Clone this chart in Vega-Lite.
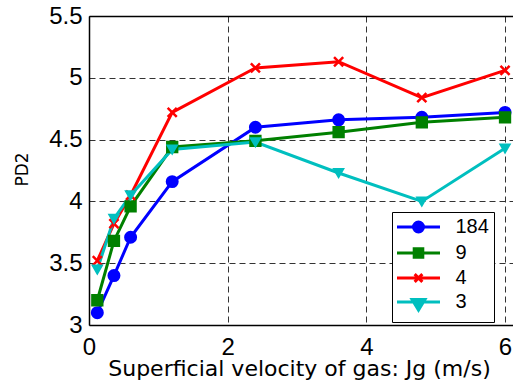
{
  "$schema": "https://vega.github.io/schema/vega-lite/v6.json",
  "width": 424,
  "height": 309,
  "autosize": {"type": "none"},
  "padding": {"left": 89, "top": 16, "right": 0, "bottom": 58},
  "background": "white",
  "config": {
    "view": {"stroke": null},
    "axis": {
      "labelFont": "Liberation Sans",
      "labelFontSize": 24,
      "labelColor": "black",
      "domainColor": "black",
      "domainWidth": 1.5,
      "ticks": false,
      "gridColor": "#333333",
      "gridDash": [6, 4],
      "gridWidth": 1,
      "gridOpacity": 1
    }
  },
  "data": {
    "values": [
      {"series": "184", "jg": 0.12, "pd2": 3.10},
      {"series": "184", "jg": 0.36, "pd2": 3.40},
      {"series": "184", "jg": 0.6, "pd2": 3.71},
      {"series": "184", "jg": 1.2, "pd2": 4.16},
      {"series": "184", "jg": 2.4, "pd2": 4.60},
      {"series": "184", "jg": 3.6, "pd2": 4.66},
      {"series": "184", "jg": 4.8, "pd2": 4.68},
      {"series": "184", "jg": 6.0, "pd2": 4.72},
      {"series": "9", "jg": 0.12, "pd2": 3.20},
      {"series": "9", "jg": 0.36, "pd2": 3.68},
      {"series": "9", "jg": 0.6, "pd2": 3.96},
      {"series": "9", "jg": 1.2, "pd2": 4.44},
      {"series": "9", "jg": 2.4, "pd2": 4.49},
      {"series": "9", "jg": 3.6, "pd2": 4.56},
      {"series": "9", "jg": 4.8, "pd2": 4.64},
      {"series": "9", "jg": 6.0, "pd2": 4.68},
      {"series": "4", "jg": 0.12, "pd2": 3.52},
      {"series": "4", "jg": 0.36, "pd2": 3.82},
      {"series": "4", "jg": 0.6, "pd2": 4.05},
      {"series": "4", "jg": 1.2, "pd2": 4.72},
      {"series": "4", "jg": 2.4, "pd2": 5.08},
      {"series": "4", "jg": 3.6, "pd2": 5.13},
      {"series": "4", "jg": 4.8, "pd2": 4.84},
      {"series": "4", "jg": 6.0, "pd2": 5.06},
      {"series": "3", "jg": 0.12, "pd2": 3.45},
      {"series": "3", "jg": 0.36, "pd2": 3.86},
      {"series": "3", "jg": 0.6, "pd2": 4.05},
      {"series": "3", "jg": 1.2, "pd2": 4.42},
      {"series": "3", "jg": 2.4, "pd2": 4.48},
      {"series": "3", "jg": 3.6, "pd2": 4.23},
      {"series": "3", "jg": 4.8, "pd2": 4.00},
      {"series": "3", "jg": 6.0, "pd2": 4.43}
    ]
  },
  "layer": [
    {
      "mark": {"type": "line", "strokeWidth": 3},
      "encoding": {
        "x": {
          "field": "jg", "type": "quantitative",
          "scale": {"domain": [0, 6.115], "nice": false, "zero": false},
          "axis": {
            "values": [0, 2, 4, 6],
            "labelPadding": 10,
            "labelFlush": false,
            "title": "Superficial velocity of gas: Jg (m/s)",
            "titleFont": "DejaVu Sans",
            "titleFontSize": 22,
            "titleFontWeight": "normal",
            "titleColor": "black",
            "titleBaseline": "alphabetic",
            "titleAlign": "center",
            "titleX": 210,
            "titleY": 50
          }
        },
        "y": {
          "field": "pd2", "type": "quantitative",
          "scale": {"domain": [3, 5.5], "nice": false, "zero": false},
          "axis": {
            "values": [3, 3.5, 4, 4.5, 5, 5.5],
            "format": "~g",
            "labelPadding": 7,
            "title": "PD2",
            "titleFont": "DejaVu Sans",
            "titleFontSize": 17,
            "titleFontWeight": "normal",
            "titleColor": "black",
            "titleBaseline": "alphabetic",
            "titleAlign": "center",
            "titleAngle": -90,
            "titleX": -61.5,
            "titleY": 153
          }
        },
        "color": {
          "field": "series", "type": "nominal",
          "scale": {"domain": ["184", "9", "4", "3"], "range": ["#0000ff", "#008000", "#ff0000", "#00bfbf"]},
          "legend": {
            "orient": "none",
            "legendX": 303,
            "legendY": 196,
            "title": null,
            "strokeColor": "black",
            "fillColor": "white",
            "padding": 5,
            "cornerRadius": 0,
            "symbolSize": 100,
            "symbolOffset": 11.5,
            "labelFont": "Liberation Sans",
            "labelFontSize": 20,
            "labelColor": "black",
            "labelOffset": 27,
            "rowPadding": 4,
            "encode": {
              "symbols": {
                "update": {
                  "shape": {"signal": "datum.value === '184' ? 'M-4.3,0H4.3M-1,0A1,1,0,1,0,1,0A1,1,0,1,0,-1,0Z' : datum.value === '9' ? 'M-4.3,0H4.3M-0.86,-0.86H0.86V0.86H-0.86Z' : datum.value === '4' ? 'M-4.3,0H4.3M-0.77,-0.77L0.77,0.77M-0.77,0.77L0.77,-0.77' : 'M-4.3,0H4.3M-1.29,-0.52H1.29L0,1.63Z'"},
                  "fill": {"signal": "datum.value === '184' ? '#0000ff' : datum.value === '9' ? '#008000' : datum.value === '4' ? '#ff0000' : '#00bfbf'"},
                  "stroke": {"signal": "datum.value === '184' ? '#0000ff' : datum.value === '9' ? '#008000' : datum.value === '4' ? '#ff0000' : '#00bfbf'"},
                  "size": {"value": 100},
                  "fillOpacity": {"value": 1},
                  "strokeOpacity": {"value": 1},
                  "opacity": {"value": 1},
                  "strokeWidth": {"value": 3}
                }
              }
            }
          }
        }
      }
    },
    {
      "mark": {"type": "point", "filled": true, "strokeWidth": 2.5, "opacity": 1},
      "encoding": {
        "x": {
          "field": "jg", "type": "quantitative",
          "scale": {"domain": [0, 6.115], "nice": false, "zero": false},
          "axis": {"orient": "top", "labels": false, "ticks": false, "grid": false, "title": null, "domainColor": "black", "domainWidth": 1.5}
        },
        "y": {
          "field": "pd2", "type": "quantitative",
          "scale": {"domain": [3, 5.5], "nice": false, "zero": false},
          "axis": {
            "values": [3, 3.5, 4, 4.5, 5, 5.5],
            "format": "~g",
            "labelPadding": 7,
            "title": "PD2",
            "titleFont": "DejaVu Sans",
            "titleFontSize": 17,
            "titleFontWeight": "normal",
            "titleColor": "black",
            "titleBaseline": "alphabetic",
            "titleAlign": "center",
            "titleAngle": -90,
            "titleX": -61.5,
            "titleY": 153
          }
        },
        "fill": {
          "field": "series", "type": "nominal",
          "scale": {"domain": ["3", "4", "9", "184"], "range": ["#00bfbf", "#ff0000", "#008000", "#0000ff"]},
          "legend": null
        },
        "stroke": {
          "field": "series", "type": "nominal",
          "scale": {"domain": ["3", "4", "9", "184"], "range": ["#00bfbf", "#ff0000", "#008000", "#0000ff"]},
          "legend": null
        },
        "shape": {
          "field": "series", "type": "nominal",
          "scale": {"domain": ["3", "4", "9", "184"], "range": ["triangle-down", "M-1,-1L1,1M-1,1L1,-1", "square", "circle"]},
          "legend": null
        },
        "size": {
          "field": "series", "type": "nominal",
          "scale": {"domain": ["3", "4", "9", "184"], "range": [70, 110, 55, 55]},
          "legend": null
        }
      }
    }
  ],
  "resolve": {"axis": {"x": "independent"}}
}
